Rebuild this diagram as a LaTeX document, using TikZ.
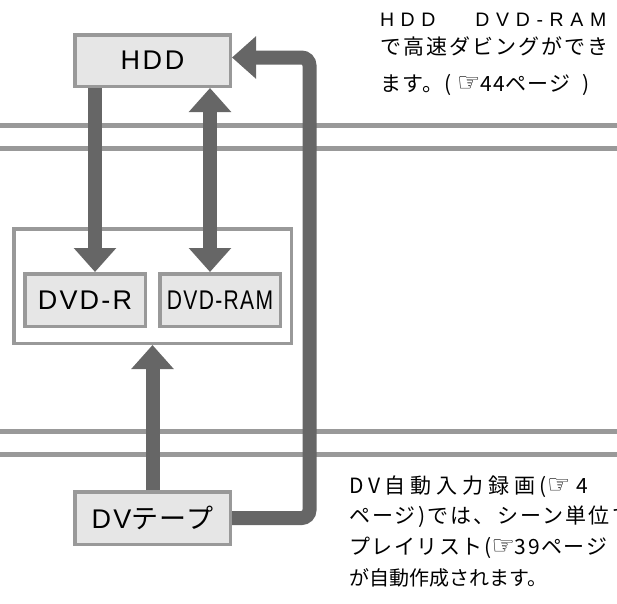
\documentclass[tikz,border=0pt]{standalone}
\usepackage{fontspec}
\setmainfont{Liberation Sans}
\newfontfamily\jp{Noto Sans CJK JP}
\newfontfamily\sym{DejaVu Sans}
\newfontfamily\narrowfont[FakeStretch=0.78]{Liberation Sans}
\usetikzlibrary{arrows.meta}
\definecolor{arrowgray}{HTML}{666666}
\definecolor{linegray}{HTML}{999999}
\definecolor{boxfill}{HTML}{E6E6E6}
\newcommand\hand{{\sym\fontsize{26}{26}\selectfont ☞}}
\newcommand\trk[1]{\addfontfeature{LetterSpace=#1}}
\begin{document}
\begin{tikzpicture}[x=1pt,y=-1pt,
  sepline/.style={draw=linegray, line width=5pt},
  box/.style={draw=linegray, fill=boxfill, line width=3.5pt, inner sep=0pt,
    font=\fontsize{27}{27}\selectfont},
  frame/.style={draw=linegray, fill=white, line width=3.5pt, inner sep=0pt},
  bigarrow/.style={draw=arrowgray, line width=14pt,
    -{Triangle[width=41pt,length=24pt]}},
  dblarrow/.style={draw=arrowgray, line width=14pt,
    {Triangle[width=41pt,length=24pt]}-{Triangle[width=41pt,length=24pt]}},
  note/.style={anchor=base west, inner sep=0pt, outer sep=0pt}
]
\useasboundingbox (0,0) rectangle (617,603);
\clip (0,0) rectangle (617,603);
% separator lines
\draw[sepline] (0,125.8) -- (617,125.8);
\draw[sepline] (0,148) -- (617,148);
\draw[sepline] (0,431.8) -- (617,431.8);
\draw[sepline] (0,454.2) -- (617,454.2);
% frame and boxes
\node[frame, minimum width=277.5pt, minimum height=114.5pt] (media) at (152.5,286) {};
\node[box, minimum width=155.5pt, minimum height=51.5pt] (HDD) at (152.5,60.5) {\trk{10}HDD};
\node[box, minimum width=120.5pt, minimum height=52.5pt] (DVDR) at (85,300) {\trk{8}DVD-R};
\node[box, minimum width=120.5pt, minimum height=52.5pt] (DVDRAM) at (220,300) {\narrowfont\trk{5}DVD-RAM};
\node[box, minimum width=155.5pt, minimum height=52.5pt] (DV) at (152.5,518) {{\trk{8}DV}{\jp\trk{5}テープ}};
% arrows
\coordinate (xL) at (95,0);
\coordinate (xM) at (210,0);
\coordinate (loopTop) at (309.5,57.5);
\draw[bigarrow] (HDD.south -| xL) -- (DVDR.north -| xL);
\draw[dblarrow] (HDD.south -| xM) -- (DVDRAM.north -| xM);
\draw[bigarrow] (DV.north) -- (media.south);
\draw[bigarrow, rounded corners=8pt] (DV.east) -| (loopTop) -- (HDD.east |- loopTop);
% texts
\node[note] (t1) at (380,26.7) {\fontsize{19.5}{19.5}\selectfont\trk{34}HDD\hspace{40pt}DVD-RAM};
\node[note] (t2) at (380,54) {\fontsize{21}{21}\jp\trk{10}で高速ダビングができ};
\node[note] (t3) at (380,91) {\fontsize{21}{21}\jp\trk{5}ます。(\hspace{6pt}\hand 44ページ\hspace{12pt})};
\node[note] (b1) at (349,493) {\fontsize{21}{21}\jp\trk{23}DV自動入力録画(\hand\hspace{6pt}4};
\node[note] (b2) at (349,523.5) {\fontsize{21}{21}\jp\trk{10.5}ページ)では、シーン単位で};
\node[note] (b3) at (349,554.5) {\fontsize{21}{21}\jp\trk{7.5}プレイリスト(\hand 39ページ};
\node[note] (b4) at (349,585.5) {\fontsize{20}{20}\jp が自動作成されます。};
\end{tikzpicture}
\end{document}
